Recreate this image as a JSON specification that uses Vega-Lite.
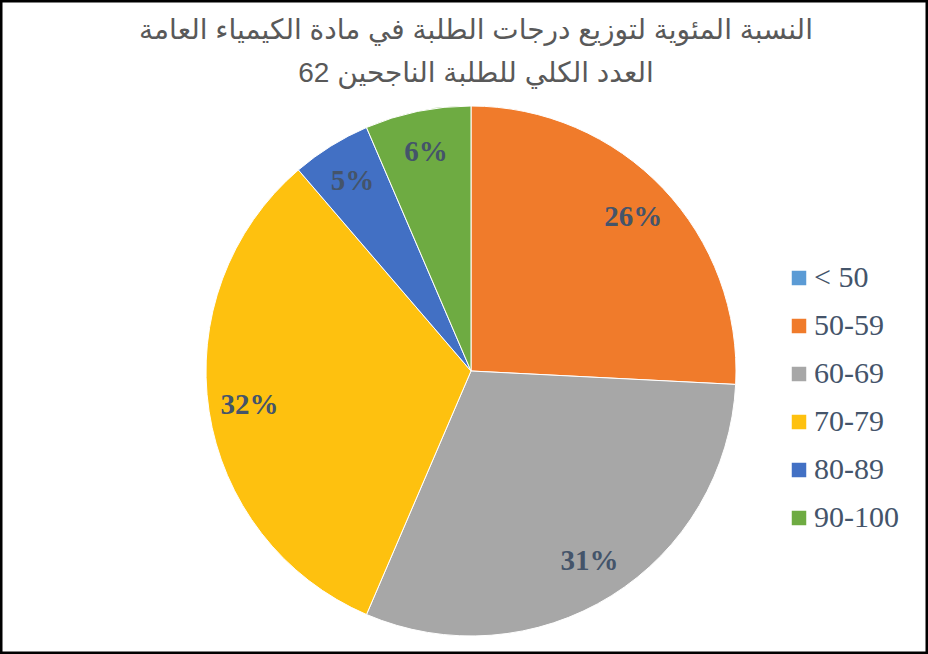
{
  "$schema": "https://vega.github.io/schema/vega-lite/v6.json",
  "autosize": "none",
  "width": 928,
  "height": 654,
  "padding": 0,
  "background": "white",
  "view": {"stroke": "black", "strokeWidth": 5},
  "title": {
    "text": ["النسبة المئوية لتوزيع درجات الطلبة في مادة الكيمياء العامة", "العدد الكلي للطلبة الناجحين 62"],
    "font": "Liberation Sans, DejaVu Sans, sans-serif",
    "fontSize": 28,
    "fontWeight": "normal",
    "color": "#595959",
    "lineHeight": 43,
    "anchor": "middle",
    "frame": "group",
    "offset": -88,
    "dx": 12
  },
  "data": {
    "values": [
      {"grade": "< 50", "count": 0, "pct": ""},
      {"grade": "50-59", "count": 16, "pct": "26%"},
      {"grade": "60-69", "count": 19, "pct": "31%"},
      {"grade": "70-79", "count": 20, "pct": "32%"},
      {"grade": "80-89", "count": 3, "pct": "5%"},
      {"grade": "90-100", "count": 4, "pct": "6%"}
    ]
  },
  "encoding": {
    "theta": {"field": "count", "type": "quantitative", "stack": true},
    "order": {"field": "grade", "type": "ordinal", "sort": ["< 50", "50-59", "60-69", "70-79", "80-89", "90-100"]},
    "color": {
      "field": "grade",
      "type": "nominal",
      "scale": {
        "domain": ["< 50", "50-59", "60-69", "70-79", "80-89", "90-100"],
        "range": ["#5B9BD5", "#F07B2B", "#A7A7A7", "#FEC10F", "#4270C4", "#6EAB42"]
      },
      "legend": {
        "title": null,
        "orient": "none",
        "legendX": 784,
        "legendY": 263,
        "padding": 0,
        "symbolType": "square",
        "symbolSize": 210,
        "symbolStrokeWidth": 0,
        "labelFont": "Liberation Serif",
        "labelFontSize": 30,
        "labelColor": "#44546A",
        "labelOffset": 0,
        "rowPadding": 18,
        "labelLimit": 200
      }
    }
  },
  "layer": [
    {
      "mark": {"type": "arc", "outerRadius": 265, "stroke": "white", "strokeWidth": 1, "x": {"expr": "width/2 + 7"}, "y": {"expr": "height/2 + 44"}}
    },
    {
      "mark": {"type": "text", "radius": 224, "font": "Liberation Serif", "fontSize": 29, "fontWeight": "bold", "x": {"expr": "width/2 + 7"}, "y": {"expr": "height/2 + 44"}},
      "encoding": {
        "text": {"field": "pct"},
        "color": {"value": "#44546A"}
      }
    }
  ]
}
